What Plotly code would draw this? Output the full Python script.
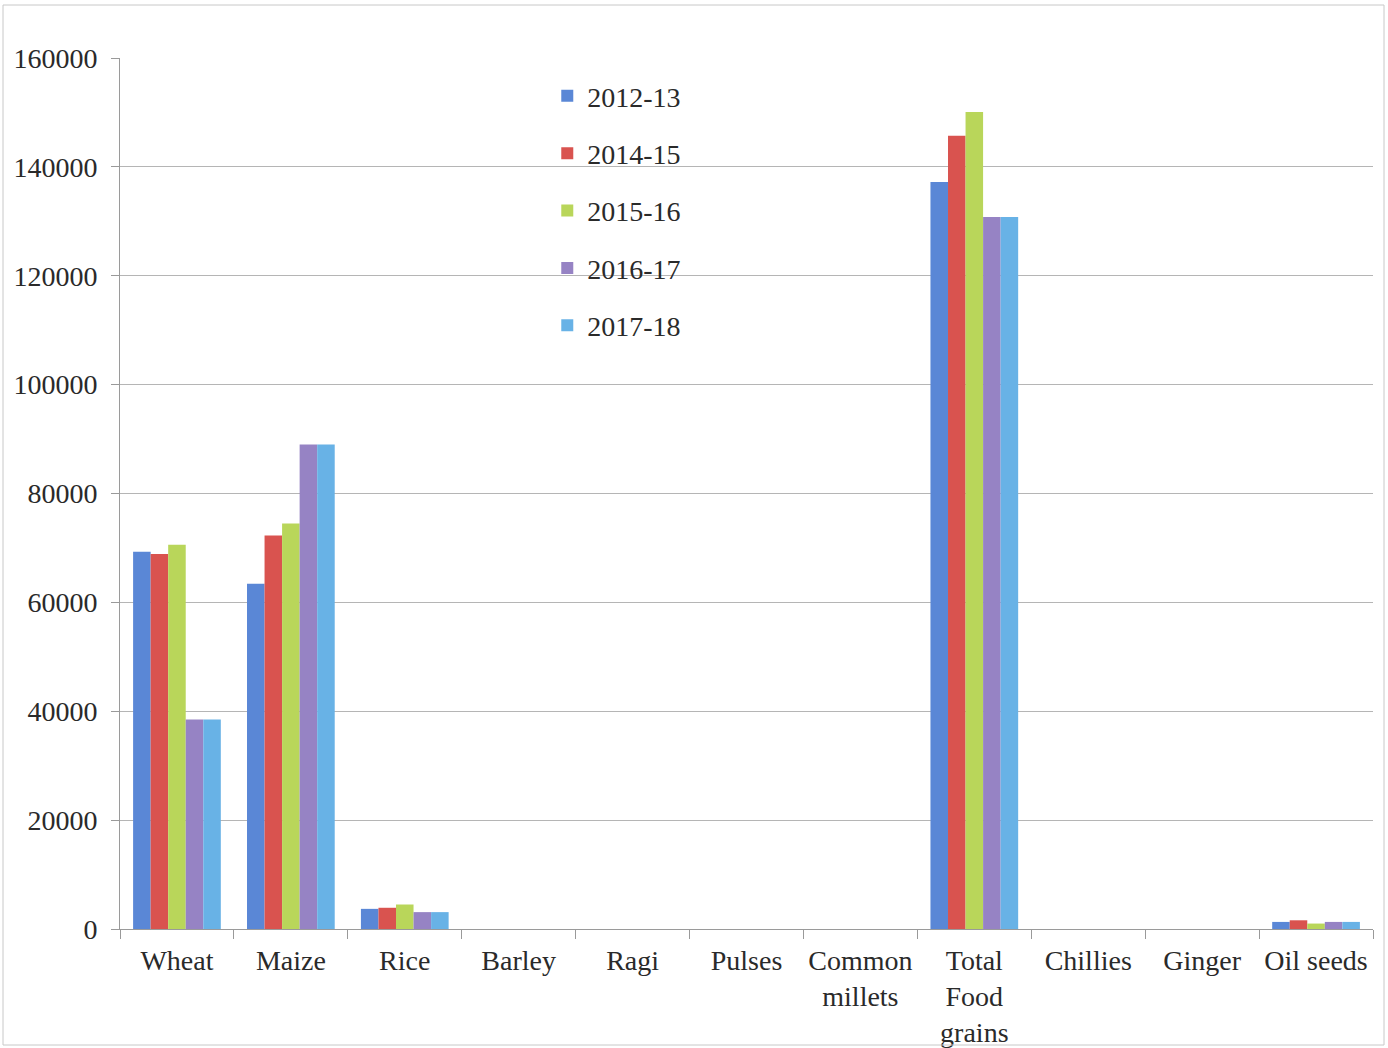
import plotly.graph_objects as go

categories = ["Wheat", "Maize", "Rice", "Barley", "Ragi", "Pulses", "Common<br>millets",
              "Total<br>Food<br>grains", "Chillies", "Ginger", "Oil seeds"]
series_names = ["2012-13", "2014-15", "2015-16", "2016-17", "2017-18"]
v_2012_13 = [69300, 63400, 3700, 0, 0, 0, 0, 137200, 0, 0, 1300]
v_2014_15 = [68900, 72300, 3900, 0, 0, 0, 0, 145700, 0, 0, 1600]
v_2015_16 = [70600, 74500, 4500, 0, 0, 0, 0, 150100, 0, 0, 1000]
v_2016_17 = [38500, 89000, 3100, 0, 0, 0, 0, 130800, 0, 0, 1300]
v_2017_18 = [38500, 89000, 3100, 0, 0, 0, 0, 130800, 0, 0, 1300]
values = [v_2012_13, v_2014_15, v_2015_16, v_2016_17, v_2017_18]
colors = ["#5a87d6", "#d9534f", "#b9d65a", "#9683c4", "#68b2e6"]

fig = go.Figure()
for i, (name, vals) in enumerate(zip(series_names, values)):
    fig.add_trace(go.Bar(x=categories, y=vals, name=name, marker_color=colors[i],
                         marker_line_width=0, legendgroup=name))

font_family = "Liberation Serif, Times New Roman, serif"
fig.update_layout(
    width=1388, height=1048,
    margin=dict(l=120, r=15, t=58, b=119),
    paper_bgcolor="white", plot_bgcolor="white",
    barmode="group", bargap=0.23, bargroupgap=0,
    font=dict(family=font_family, size=28, color="#2a2a2a"),
    legend=dict(x=0.341, y=0.985, xanchor="left", yanchor="top",
                bgcolor="rgba(0,0,0,0)", font=dict(size=28),
                tracegroupgap=18, itemwidth=30),
    showlegend=True,
)
fig.update_xaxes(showgrid=False, showline=True, linecolor="#9a9a9a", linewidth=1,
                 ticks="outside", ticklen=9, tickcolor="#9a9a9a", tickson="boundaries",
                 tickfont=dict(size=28), ticklabelstandoff=6, automargin=False)
fig.update_yaxes(range=[0, 160000], dtick=20000, showgrid=True, gridcolor="#b5b5b5",
                 gridwidth=1, showline=True, linecolor="#9a9a9a", linewidth=1,
                 ticks="outside", ticklen=8, tickcolor="#9a9a9a", tickformat="d",
                 tickfont=dict(size=28), zeroline=False, ticklabelstandoff=8,
                 automargin=False)
# outer frame
fig.add_shape(type="rect", xref="paper", yref="paper",
              x0=-(117 / 1253), x1=1 + 11 / 1253, y0=-(116 / 871), y1=1 + 53 / 871,
              line=dict(color="#c8c8c8", width=1))
fig.write_html("out.html", config={"displayModeBar": False},
               post_script="document.body.style.margin='0';")
